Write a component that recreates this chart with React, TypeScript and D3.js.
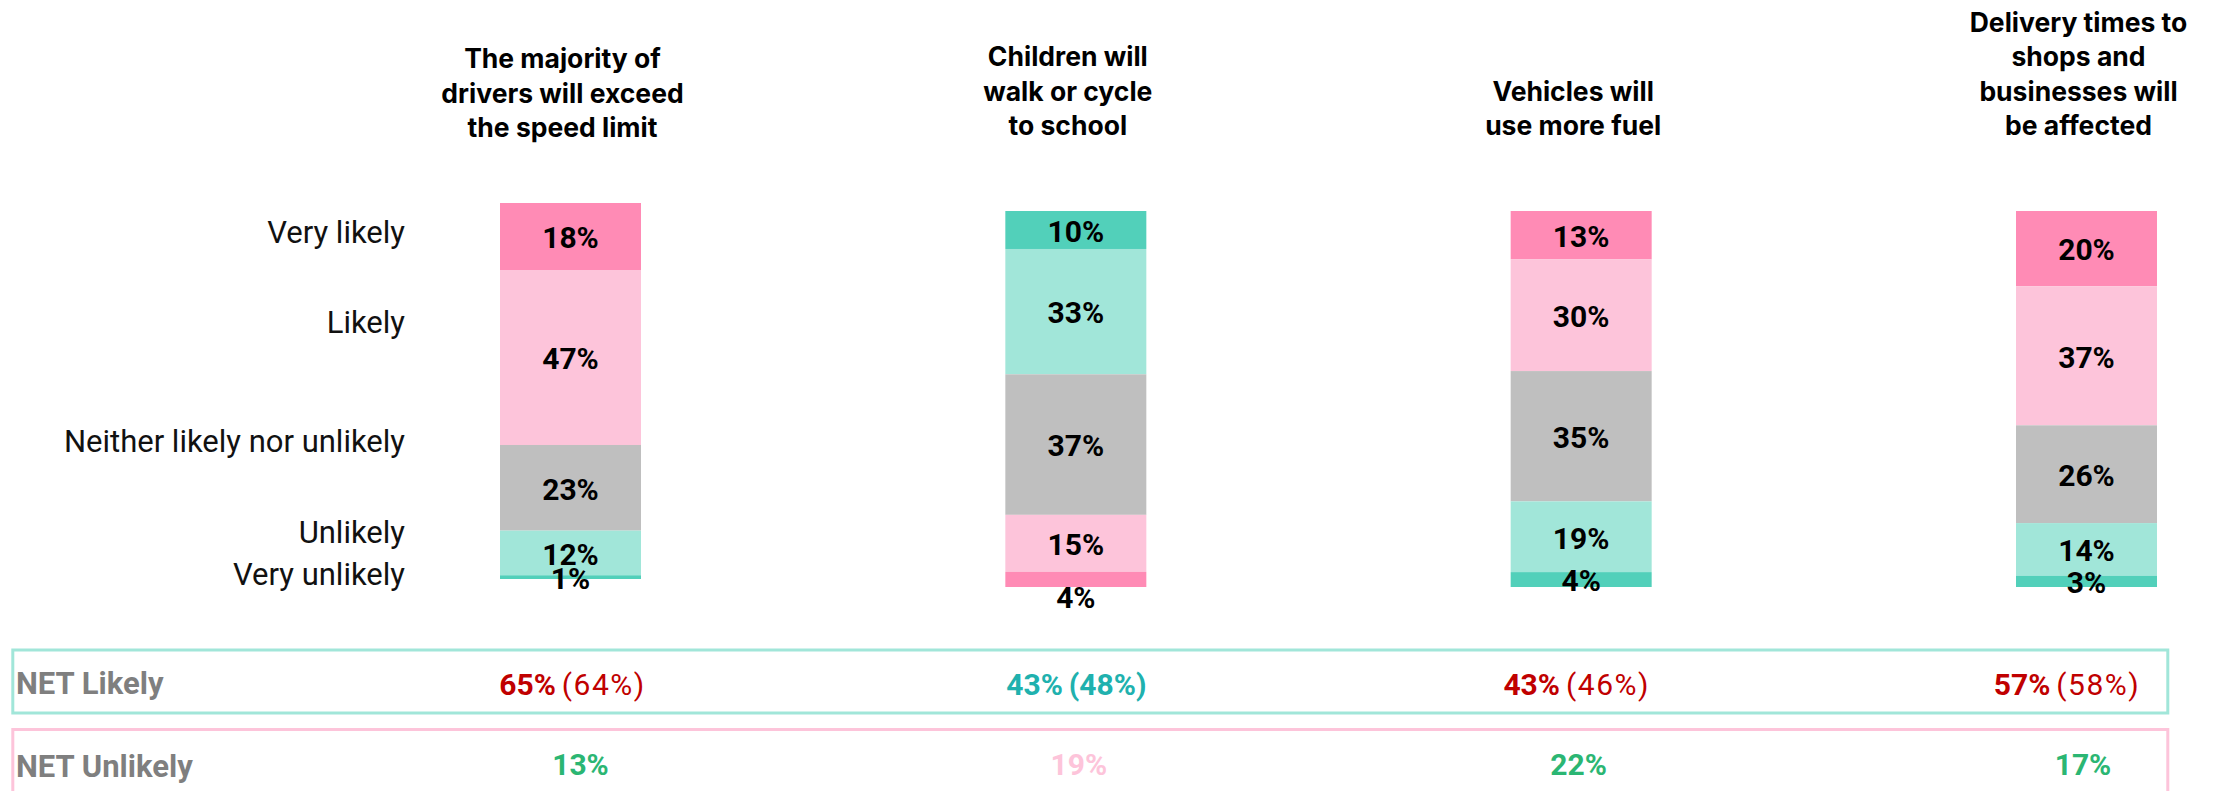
import React from "react";
import * as d3 from "d3";

// ---------- data ----------
const headers: string[][] = [
  ["The majority of", "drivers will exceed", "the speed limit"],
  ["Children will", "walk or cycle", "to school"],
  ["Vehicles will", "use more fuel"],
  ["Delivery times to", "shops and", "businesses will", "be affected"],
];
const categories = ["speed", "walk", "fuel", "delivery"];
const levels = ["Very likely", "Likely", "Neither likely nor unlikely", "Unlikely", "Very unlikely"];
const veryLikely = [18, 10, 13, 20];
const likely = [47, 33, 30, 37];
const neither = [23, 37, 35, 26];
const unlikely = [12, 15, 19, 14];
const veryUnlikely = [1, 4, 4, 3];
const netLikely = [65, 43, 43, 57];
const netLikelyPrev = [64, 48, 46, 58];
const netUnlikely = [13, 19, 22, 17];
const positiveOutcome = [false, true, false, false];

// ---------- style / layout ----------
const W = 2213;
const H = 791;
const C = {
  darkPink: "#FF8BB5",
  lightPink: "#FDC4DA",
  gray: "#BFBFBF",
  lightTeal: "#A1E6D9",
  darkTeal: "#52D0BA",
  red: "#C00000",
  teal: "#20B1AE",
  green: "#2BB673",
  netGray: "#7F7F7F",
};
const negPalette = [C.darkPink, C.lightPink, C.gray, C.lightTeal, C.darkTeal];
const posPalette = [C.darkTeal, C.lightTeal, C.gray, C.lightPink, C.darkPink];
const barTops = [203, 211, 211, 211];
const barHeight = 376;
const barWidth = 141;
const headerBase = [137, 135, 135, 135];
const headerLineGap = 34.5;
const legendBaselines = [243, 333, 452, 543, 585];
const bottomLabelBelow = [false, true, false, false];
const netOffsets = [2, 0.5, -4.5, -19.5];
const netUnlikelyOffsets = [10, 3, -2.5, -3.5];
const FONT = "Roboto, 'Noto Sans', sans-serif";
const HEAD_FONT = "Inter, Roboto, sans-serif";

const rows = categories.map((c, i) => ({
  cat: c,
  [levels[0]]: veryLikely[i],
  [levels[1]]: likely[i],
  [levels[2]]: neither[i],
  [levels[3]]: unlikely[i],
  [levels[4]]: veryUnlikely[i],
}));

export default function App() {
  const x = d3.scalePoint<string>().domain(categories).range([570.5, 2086.5]);
  const stack = d3.stack<any>().keys(levels);
  const series = stack(rows);
  const totals = rows.map((r) => d3.sum(levels, (k) => r[k] as number));

  return (
    <svg
      width={W}
      height={H}
      style={{ position: "absolute", left: 0, top: 0, background: "#fff" }}
      fontFamily={FONT}
    >
      {/* headers */}
      {headers.map((lines, i) => (
        <text
          key={"h" + i}
          textAnchor="middle"
          fontWeight={700}
          fontSize={26.5}
          fontFamily={HEAD_FONT}
          fill="#000"
        >
          {lines.map((ln, j) => (
            <tspan
              key={j}
              x={(x(categories[i]) as number) - 8}
              y={headerBase[i] - (lines.length - 1 - j) * headerLineGap}
            >
              {ln}
            </tspan>
          ))}
        </text>
      ))}

      {/* left legend labels */}
      {levels.map((lv, k) => (
        <text
          key={"l" + k}
          x={405}
          y={legendBaselines[k]}
          textAnchor="end"
          fontSize={31}
          fill="#111"
        >
          {lv}
        </text>
      ))}

      {/* bars */}
      {categories.map((c, i) => {
        const y = d3.scaleLinear().domain([0, totals[i]]).range([barTops[i], barTops[i] + barHeight]);
        const pal = positiveOutcome[i] ? posPalette : negPalette;
        const cx = x(c) as number;
        return (
          <g key={"b" + i}>
            {series.map((s, k) => {
              const d = s[i];
              return (
                <rect
                  key={k}
                  x={cx - barWidth / 2}
                  y={y(d[0])}
                  width={barWidth}
                  height={y(d[1]) - y(d[0])}
                  fill={pal[k]}
                />
              );
            })}
            {series.map((s, k) => {
              const d = s[i];
              const isLast = k === levels.length - 1;
              const below = isLast && bottomLabelBelow[i];
              const cy = below ? y(d[1]) + 10 : (y(d[0]) + y(d[1])) / 2 + 1;
              return (
                <text
                  key={"t" + k}
                  x={cx}
                  y={cy}
                  dy="0.36em"
                  textAnchor="middle"
                  fontWeight={700}
                  fontSize={30}
                  fill="#000"
                >
                  {`${d[1] - d[0]}%`}
                </text>
              );
            })}
          </g>
        );
      })}

      {/* NET boxes */}
      <rect x={12.8} y={650} width={2155} height={63} fill="none" stroke={C.lightTeal} strokeWidth={3} />
      <rect x={12.8} y={729.5} width={2155} height={90} fill="none" stroke={C.lightPink} strokeWidth={3} />
      <text x={16} y={694} fontWeight={700} fontSize={31} fill={C.netGray}>
        NET Likely
      </text>
      <text x={16} y={777} fontWeight={700} fontSize={31} fill={C.netGray}>
        NET Unlikely
      </text>

      {categories.map((c, i) => {
        const pos = positiveOutcome[i];
        const col = pos ? C.teal : C.red;
        return (
          <text
            key={"nl" + i}
            x={(x(c) as number) + netOffsets[i]}
            y={695}
            textAnchor="middle"
            fontSize={30}
            fill={col}
          >
            <tspan fontWeight={700}>{`${netLikely[i]}%`}</tspan>
            <tspan
              fontWeight={pos ? 700 : 400}
              letterSpacing={pos ? 0 : 1.5}
              dx={6}
            >{`(${netLikelyPrev[i]}%)`}</tspan>
          </text>
        );
      })}
      {categories.map((c, i) => (
        <text
          key={"nu" + i}
          x={(x(c) as number) + netUnlikelyOffsets[i]}
          y={775}
          textAnchor="middle"
          fontSize={30}
          fontWeight={700}
          fill={positiveOutcome[i] ? C.lightPink : C.green}
        >
          {`${netUnlikely[i]}%`}
        </text>
      ))}
    </svg>
  );
}
